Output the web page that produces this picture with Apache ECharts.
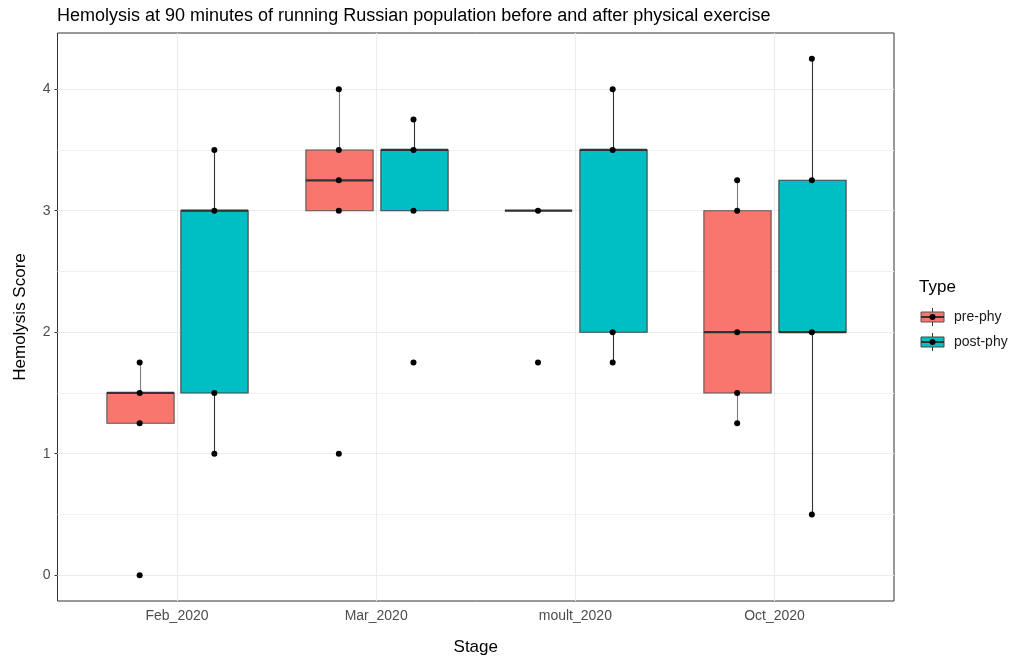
<!DOCTYPE html>
<html>
<head>
    <meta charset="utf-8">
    <title>Hemolysis Score</title>
    <script src="https://cdn.jsdelivr.net/npm/echarts@6/dist/echarts.min.js"></script>
    <style>
        html, body { margin: 0; padding: 0; background: #fff; }
        #chart { width: 1009px; height: 659px; }
    </style>
</head>
<body>
<div id="chart"></div>
<script>
    // categories
    var stages = ['Feb_2020', 'Mar_2020', 'moult_2020', 'Oct_2020'];
    var types = ['pre-phy', 'post-phy'];
    var typeColors = ['#F8766D', '#00BFC4'];

    // box stats per stage: [lower whisker, Q1, median, Q3, upper whisker]
    var preBox = [
        [1.25, 1.25, 1.5, 1.5, 1.75],
        [3, 3, 3.25, 3.5, 4],
        [3, 3, 3, 3, 3],
        [1.25, 1.5, 2, 3, 3.25]
    ];
    var postBox = [
        [1, 1.5, 3, 3, 3.5],
        [3, 3, 3.5, 3.5, 3.75],
        [1.75, 2, 3.5, 3.5, 4],
        [0.5, 2, 2, 3.25, 4.25]
    ];

    // observed points per stage
    var prePoints = [
        [0, 1.25, 1.5, 1.75],
        [1, 3, 3.25, 3.5, 4],
        [1.75, 3],
        [1.25, 1.5, 2, 3, 3.25]
    ];
    var postPoints = [
        [1, 1.5, 3, 3.5],
        [1.75, 3, 3.5, 3.75],
        [1.75, 2, 3.5, 4],
        [0.5, 2, 3.25, 4.25]
    ];

    // tick labels
    var yTicks = [0, 1, 2, 3, 4];
    var yMinor = [0.5, 1.5, 2.5, 3.5];
    var xTicks = [1, 2, 3, 4];

    var dodge = 0.1875;   // half of dodge width 0.75
    var boxW = 0.3375;

    function boxData(box, side) {
        return box.map(function (b, i) {
            return [i + 1 + side * dodge].concat(b);
        });
    }
    function pointData(pts, side) {
        var out = [];
        pts.forEach(function (arr, i) {
            arr.forEach(function (v) { out.push([i + 1 + side * dodge, v]); });
        });
        return out;
    }

    function makeRender(fill, stroke, whisk) {
        return function (params, api) {
            var x = api.value(0);
            var lo = api.coord([x, api.value(1)]);
            var q1 = api.coord([x, api.value(2)]);
            var med = api.coord([x, api.value(3)]);
            var q3 = api.coord([x, api.value(4)]);
            var hi = api.coord([x, api.value(5)]);
            var half = api.size([boxW, 0])[0] / 2;
            var cx = Math.round(q1[0]) + 0.5;
            return {
                type: 'group',
                children: [
                    { type: 'line', shape: { x1: cx, y1: lo[1], x2: cx, y2: q1[1] }, style: { stroke: whisk, lineWidth: 1.1 } },
                    { type: 'line', shape: { x1: cx, y1: q3[1], x2: cx, y2: hi[1] }, style: { stroke: whisk, lineWidth: 1.1 } },
                    { type: 'rect', shape: { x: cx - half, y: q3[1], width: half * 2, height: q1[1] - q3[1] },
                      style: { fill: fill, stroke: stroke, lineWidth: 1.1 } },
                    { type: 'line', shape: { x1: cx - half, y1: med[1], x2: cx + half, y2: med[1] }, style: { stroke: '#333', lineWidth: 2.2 } }
                ]
            };
        };
    }

    var fontFam = '"Liberation Sans", Arial, sans-serif';

    function legendKey(y, fill, stroke) {
        var x0 = 921, x1 = 944, cx = 932.5;
        return [
            { type: 'line', shape: { x1: cx, y1: y - 9, x2: cx, y2: y + 9 }, style: { stroke: '#333', lineWidth: 1 } },
            { type: 'rect', shape: { x: x0, y: y - 5, width: x1 - x0, height: 10 }, style: { fill: fill, stroke: stroke, lineWidth: 1 } },
            { type: 'line', shape: { x1: x0, y1: y, x2: x1, y2: y }, style: { stroke: '#333', lineWidth: 2 } },
            { type: 'circle', shape: { cx: cx, cy: y, r: 3 }, style: { fill: '#000' } }
        ];
    }

    var chart = echarts.init(document.getElementById('chart'));

    var option = {
        animation: false,
        backgroundColor: '#fff',
        textStyle: { fontFamily: fontFam },
        title: {
            text: 'Hemolysis at 90 minutes of running Russian population before and after physical exercise',
            left: 57,
            top: 7,
            padding: 0,
            textStyle: { fontSize: 18, fontWeight: 'normal', color: '#000', fontFamily: fontFam }
        },
        grid: {
            left: 57.5, right: 115, top: 33, bottom: 58,
            outerBoundsMode: 'none',
            containLabel: false,
            show: true, borderColor: '#333', borderWidth: 1, backgroundColor: '#fff'
        },
        xAxis: {
            type: 'value',
            min: 0.4,
            max: 4.6,
            name: 'Stage',
            nameLocation: 'middle',
            nameGap: 38,
            nameTextStyle: { fontSize: 17, color: '#000', fontFamily: fontFam },
            axisLine: { show: false },
            splitLine: { show: false },
            axisTick: { show: true, customValues: xTicks, length: 3, lineStyle: { color: '#333' } },
            axisLabel: {
                customValues: xTicks, margin: 8, fontSize: 14, color: '#4d4d4d', fontFamily: fontFam,
                formatter: function (v) { return stages[Math.round(v) - 1]; }
            }
        },
        yAxis: {
            type: 'value',
            min: -0.2125,
            max: 4.4625,
            name: 'Hemolysis Score',
            nameLocation: 'middle',
            nameGap: 29,
            nameTextStyle: { fontSize: 17, color: '#000', fontFamily: fontFam },
            axisLine: { show: false },
            splitLine: { show: false },
            axisTick: { show: true, customValues: yTicks, length: 3, lineStyle: { color: '#333' } },
            axisLabel: {
                customValues: yTicks, margin: 7, fontSize: 14, color: '#4d4d4d', fontFamily: fontFam,
                formatter: function (v) { return String(Math.round(v)); }
            }
        },
        graphic: [
            { type: 'text', left: 919, top: 279, style: { text: 'Type', fontSize: 17, fill: '#000', fontFamily: fontFam } },
            { type: 'text', left: 954, top: 310, style: { text: types[0], fontSize: 14, fill: '#1a1a1a', fontFamily: fontFam } },
            { type: 'text', left: 954, top: 335, style: { text: types[1], fontSize: 14, fill: '#1a1a1a', fontFamily: fontFam } }
        ].concat(legendKey(317, typeColors[0], '#555'), legendKey(342, typeColors[1], '#444')),
        series: [
            {
                // panel grid lines
                type: 'scatter',
                data: [],
                silent: true,
                markLine: {
                    silent: true,
                    symbol: 'none',
                    z: 1,
                    label: { show: false },
                    animation: false,
                    data: yTicks.map(function (v) { return { yAxis: v, lineStyle: { color: '#ebebeb', width: 1.1, type: 'solid' } }; })
                        .concat(yMinor.map(function (v) { return { yAxis: v, lineStyle: { color: '#f2f2f2', width: 1, type: 'solid' } }; }))
                        .concat(xTicks.map(function (v) { return { xAxis: v, lineStyle: { color: '#ebebeb', width: 1.1, type: 'solid' } }; }))
                }
            },
            {
                name: types[0],
                type: 'custom',
                z: 3,
                silent: true,
                renderItem: makeRender(typeColors[0], '#555', '#7f7f7f'),
                encode: { x: 0, y: [1, 2, 3, 4, 5] },
                data: boxData(preBox, -1)
            },
            {
                name: types[1],
                type: 'custom',
                z: 3,
                silent: true,
                renderItem: makeRender(typeColors[1], '#444', '#333'),
                encode: { x: 0, y: [1, 2, 3, 4, 5] },
                data: boxData(postBox, 1)
            },
            {
                type: 'scatter',
                z: 5,
                symbolSize: 6,
                itemStyle: { color: '#000', opacity: 1 },
                data: pointData(prePoints, -1)
            },
            {
                type: 'scatter',
                z: 5,
                symbolSize: 6,
                itemStyle: { color: '#000', opacity: 1 },
                data: pointData(postPoints, 1)
            }
        ]
    };

    chart.setOption(option);
</script>
</body>
</html>
